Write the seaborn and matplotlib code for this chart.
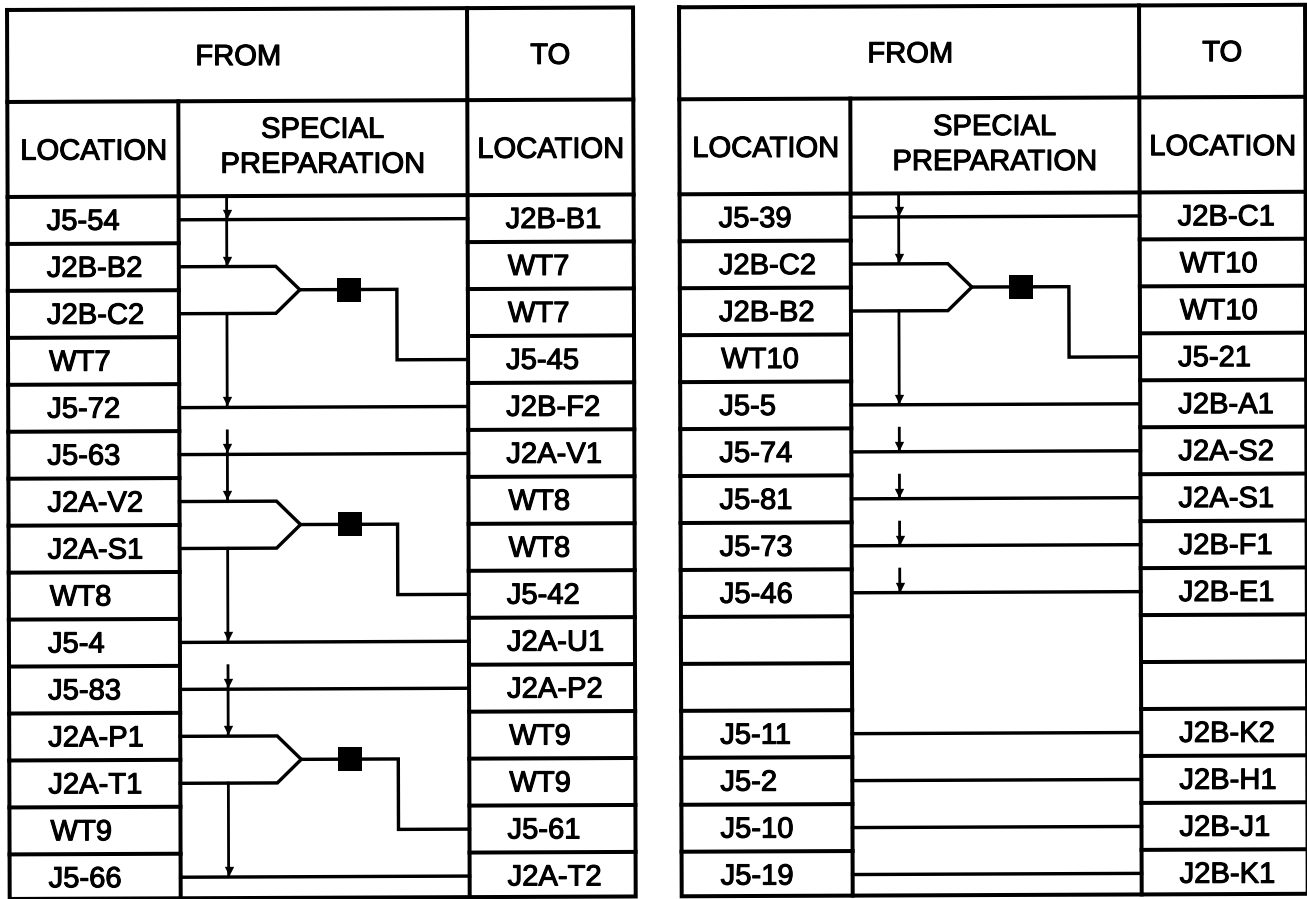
"""
Wiring table: FROM / SPECIAL PREPARATION / TO, two tables side by side.
"""

import matplotlib
matplotlib.use("Agg")
import matplotlib.pyplot as plt
import matplotlib.patheffects as pe
import pandas as pd
import seaborn as sns

# --------- Table contents ---------
from_left = ["J5-54", "J2B-B2", "J2B-C2", "WT7", "J5-72", "J5-63", "J2A-V2", "J2A-S1",
             "WT8", "J5-4", "J5-83", "J2A-P1", "J2A-T1", "WT9", "J5-66"]
to_left = ["J2B-B1", "WT7", "WT7", "J5-45", "J2B-F2", "J2A-V1", "WT8", "WT8",
           "J5-42", "J2A-U1", "J2A-P2", "WT9", "WT9", "J5-61", "J2A-T2"]
from_right = ["J5-39", "J2B-C2", "J2B-B2", "WT10", "J5-5", "J5-74", "J5-81", "J5-73",
              "J5-46", "", "", "J5-11", "J5-2", "J5-10", "J5-19"]
to_right = ["J2B-C1", "WT10", "WT10", "J5-21", "J2B-A1", "J2A-S2", "J2A-S1", "J2B-F1",
            "J2B-E1", "", "", "J2B-K2", "J2B-H1", "J2B-J1", "J2B-K1"]

# rows with a plain wire, rows where a splice starts, rows of arrow runs
wires_left = [0, 4, 5, 9, 10, 14]
wires_right = [0, 4, 5, 6, 7, 8, 11, 12, 13, 14]
splices_left = [1, 6, 11]
splices_right = [1]
double_arrows_left = [0, 5, 10]
double_arrows_right = [0]
stub_arrows_right = [5, 6, 7, 8]
run_arrows_left = [2, 7, 12]
run_arrows_right = [2]

# --------- Layout (pixels) ---------
X_L, X_C1, X_C2, X_R = 7, 178, 467, 633
Y_TOP, Y_H1, Y_H2 = 10, 102, 197
ROW_H = 46.96
Y_BOTTOM = 899
X_ARROW = 226
OFFSET_RIGHT = 672
TILT_X, TILT_Y = 0.003, 0.004  # the scan is slightly rotated


def pos(x, y, off):
    return x + off + TILT_X * y, y - TILT_Y * (x + off)


def row_mid(i):
    return Y_H2 + 23.5 + ROW_H * i


def row_top(i):
    return Y_H2 + ROW_H * i


def add_line(store, pts, off):
    uid = len(set(p["uid"] for p in store))
    for x, y in pts:
        px, py = pos(x, y, off)
        store.append({"x": px, "y": py, "uid": uid})


def build_table(off, wires, splices, double_arrows, run_arrows, stub_arrows):
    frame, wire, arrow, heads, squares = [], [], [], [], []

    add_line(frame, [(X_L, Y_TOP), (X_R, Y_TOP), (X_R, Y_BOTTOM), (X_L, Y_BOTTOM), (X_L, Y_TOP)], off)
    add_line(frame, [(X_C2, Y_TOP), (X_C2, Y_BOTTOM)], off)
    add_line(frame, [(X_C1, Y_H1), (X_C1, Y_BOTTOM)], off)
    add_line(frame, [(X_L, Y_H1), (X_R, Y_H1)], off)
    add_line(frame, [(X_L, Y_H2), (X_R, Y_H2)], off)
    for i in range(1, 15):
        add_line(frame, [(X_L, row_top(i)), (X_C1, row_top(i))], off)
        add_line(frame, [(X_C2, row_top(i)), (X_R, row_top(i))], off)

    for r in wires:
        add_line(wire, [(X_C1, row_mid(r)), (X_C2, row_mid(r))], off)

    for r in splices:
        y1, y2, y3 = row_mid(r), row_mid(r + 1), row_mid(r + 2)
        ym = (y1 + y2) / 2
        add_line(wire, [(X_C1, y1), (275, y1), (299, ym), (275, y2), (X_C1, y2)], off)
        add_line(wire, [(299, ym), (396, ym), (396, y3), (X_C2, y3)], off)
        squares.append(pos(348, ym, off))

    for r in double_arrows:
        add_line(arrow, [(X_ARROW, row_top(r)), (X_ARROW, row_mid(r + 1) - 2)], off)
        heads.append(pos(X_ARROW, row_mid(r) - 6, off))
        heads.append(pos(X_ARROW, row_mid(r + 1) - 6, off))
    for r in run_arrows:
        add_line(arrow, [(X_ARROW, row_mid(r)), (X_ARROW, row_mid(r + 2) - 2)], off)
        heads.append(pos(X_ARROW, row_mid(r + 2) - 6, off))
    for r in stub_arrows:
        add_line(arrow, [(X_ARROW, row_top(r)), (X_ARROW, row_mid(r) - 2)], off)
        heads.append(pos(X_ARROW, row_mid(r) - 6, off))

    return frame, wire, arrow, heads, squares


def draw_lines(ax, store, width_px):
    sns.lineplot(data=pd.DataFrame(store), x="x", y="y", units="uid", estimator=None,
                 sort=False, color="black", linewidth=width_px * 0.72, legend=False,
                 ax=ax)


def put_text(ax, x, y, s, off, ha="center"):
    px, py = pos(x, y, off)
    ax.text(px, py, s, ha=ha, va="center", fontsize=21, color="black",
            path_effects=[pe.withStroke(linewidth=0.8, foreground="black")])


def draw_table(ax, from_col, to_col, off, wires, splices, double_arrows, run_arrows, stub_arrows):
    frame, wire, arrow, heads, squares = build_table(off, wires, splices, double_arrows,
                                                     run_arrows, stub_arrows)
    draw_lines(ax, frame, 4.0)
    draw_lines(ax, wire, 3.4)
    draw_lines(ax, arrow, 2.8)

    hd = pd.DataFrame(heads, columns=["x", "y"])
    sns.scatterplot(data=hd, x="x", y="y", marker="v", s=45, color="black", linewidth=0, ax=ax)
    sq = pd.DataFrame(squares, columns=["x", "y"])
    sns.scatterplot(data=sq, x="x", y="y", marker="s", s=320, color="black", linewidth=0, ax=ax)

    put_text(ax, 238, 58, "FROM", off)
    put_text(ax, 550, 58, "TO", off)
    put_text(ax, 93, 152, "LOCATION", off)
    put_text(ax, 322, 131, "SPECIAL", off)
    put_text(ax, 322, 166, "PREPARATION", off)
    put_text(ax, 550, 152, "LOCATION", off)

    for i, label in enumerate(from_col):
        put_text(ax, 46 if not label.startswith("WT") else 48, row_mid(i) + 1.5, label, off, ha="left")
    for i, label in enumerate(to_col):
        put_text(ax, 505 if not label.startswith("WT") else 507, row_mid(i) + 1.5, label, off, ha="left")


if __name__ == "__main__":
    sns.set_theme(style="white")
    plt.rcParams["font.family"] = ["Liberation Sans", "DejaVu Sans"]
    plt.rcParams["lines.solid_capstyle"] = "projecting"
    plt.rcParams["lines.solid_joinstyle"] = "miter"

    fig = plt.figure(figsize=(13.07, 8.99), dpi=100)
    ax = fig.add_axes([0, 0, 1, 1])

    draw_table(ax, from_left, to_left, 0, wires_left, splices_left,
               double_arrows_left, run_arrows_left, [])
    draw_table(ax, from_right, to_right, OFFSET_RIGHT, wires_right, splices_right,
               double_arrows_right, run_arrows_right, stub_arrows_right)

    ax.set_xlim(0, 1307)
    ax.set_ylim(899, 0)
    ax.axis("off")
    fig.savefig("out.png", dpi=100, facecolor="white")
